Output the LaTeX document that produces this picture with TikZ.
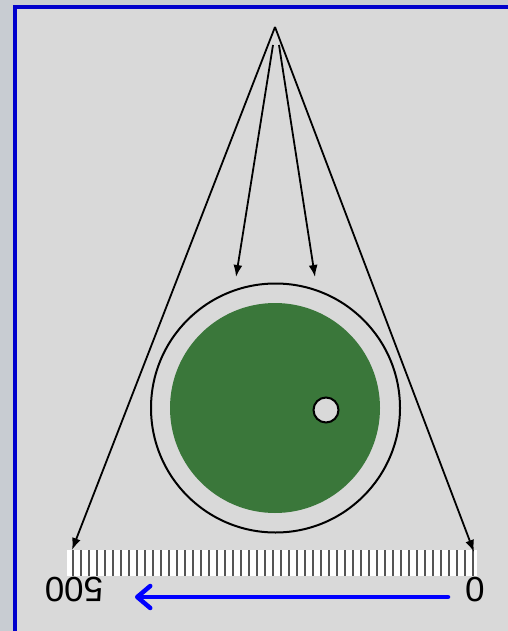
\documentclass[tikz,border=0pt]{standalone}
\usepackage{fontspec}
\setmainfont{Liberation Sans}
\usetikzlibrary{arrows.meta}
\definecolor{pagegrey}{HTML}{C8CCD2}
\definecolor{panelgrey}{HTML}{D9D9D9}
\definecolor{panelblue}{HTML}{0000CC}
\definecolor{discgreen}{HTML}{3A773A}
\definecolor{tickgrey}{HTML}{555555}
\begin{document}
\begin{tikzpicture}[x=1pt,y=-1pt,>={Latex[length=12pt,width=9pt]},
  ray/.style={->,line width=1.8pt},
  ring/.style={draw,line width=2pt,circle,inner sep=0pt},
  tickline/.style={tickgrey,line width=2pt},
  figure/.style={font=\fontsize{35}{35}\selectfont,rotate=180,inner sep=0pt}]
\fill[pagegrey] (0,0) rectangle (508,631);
\useasboundingbox (0,0) rectangle (508,631);
\filldraw[fill=panelgrey,draw=panelblue,line width=4.5pt] (15,7) rectangle (530,660);
% disc and its rim
\node[ring,minimum size=249pt] (rim) at (275.5,408) {};
\node[circle,fill=discgreen,inner sep=0pt,minimum size=210pt] (disc) at (275,408) {};
\node[ring,fill=panelgrey,minimum size=25pt] (hole) at (326,410) {};
% scale
\node[fill=white,inner sep=0pt,minimum width=410pt,minimum height=26pt] (scale) at (272,563) {};
\foreach \i in {0,...,50}
  \draw[tickline] (73+8*\i,550) -- (73+8*\i,576);
\node[figure] (zero) at (475,590) {0};
\node[figure] (five) at (74,590) {500};
% rays
\coordinate (apex) at (275,27);
\coordinate (splitL) at (273,45);
\coordinate (splitR) at (279,45);
\coordinate (tipL) at (72,550);
\coordinate (tipR) at (474,552);
\coordinate (rimL) at (236,277);
\coordinate (rimR) at (315,277);
\draw[ray] (apex) -- (tipL);
\draw[ray] (apex) -- (tipR);
\draw[ray] (splitL) -- (rimL);
\draw[ray] (splitR) -- (rimR);
% direction
\coordinate (runS) at (448,597);
\coordinate (runE) at (135,597);
\draw[blue,line width=4.5pt,line cap=round,-{Straight Barb[length=13pt,width=22pt,round]}] (runS) -- (runE);
\end{tikzpicture}
\end{document}
